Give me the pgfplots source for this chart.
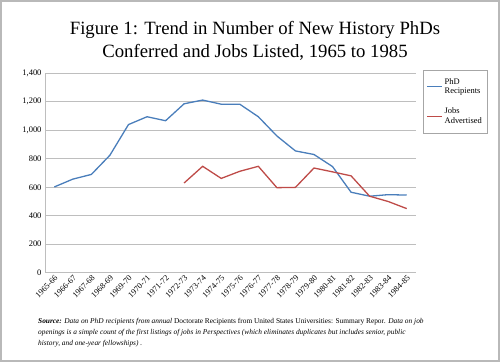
\documentclass[border=0pt]{standalone}
\usepackage{fontspec}
\setmainfont{Liberation Serif}
\usepackage{pgfplots}
\pgfplotsset{compat=1.18}
\definecolor{phdblue}{RGB}{74,126,187}
\definecolor{jobred}{RGB}{190,75,72}
\definecolor{gridgray}{RGB}{190,190,190}
\begin{document}
\begin{tikzpicture}[x=1bp,y=1bp]
\path[use as bounding box] (0,0) rectangle (500,362);
\draw[gray!55, line width=1.6bp] (0.8,0.8) rectangle (499.2,361.2);
\node[align=center, font=\fontsize{18.8}{23}\selectfont] at (255,321.3) {Figure 1: Trend in Number of New History PhDs\\Conferred and Jobs Listed, 1965 to 1985};
\begin{axis}[
  at={(45bp,89.3bp)}, anchor=south west,
  width=371bp, height=199.4bp, scale only axis,
  xmin=-0.5, xmax=19.5, ymin=0, ymax=1400,
  ytick={0,200,...,1400},
  xtick={0,...,19},
  xticklabels={1965-66,1966-67,1967-68,1968-69,1969-70,1970-71,1971-72,1972-73,1973-74,1974-75,1975-76,1976-77,1977-78,1978-79,1979-80,1980-81,1981-82,1982-83,1983-84,1984-85},
  x tick label style={rotate=45, anchor=north east, font=\fontsize{8.3}{9}\selectfont, inner sep=1.5bp},
  y tick label style={font=\fontsize{8.5}{10}\selectfont},
  /pgf/number format/assume math mode=true,
  /pgf/number format/1000 sep={,},
  major tick length=0pt,
  axis x line*=bottom, axis y line*=left,
  axis line style={gridgray, line width=0.8bp, -},
  ymajorgrids, grid style={gridgray, line width=0.8bp},
  legend style={at={(1.019,1.0166)}, anchor=north west, draw=gray!70, line width=0.6bp,
    font=\fontsize{8.5}{9.5}\selectfont, nodes={align=left}, inner xsep=3bp, inner ysep=6bp, row sep=9bp},
  legend cell align=left,
  legend image code/.code={\draw[#1] (0bp,0bp) -- (15bp,0bp);},
]
\addplot[phdblue, line width=1.3bp] coordinates {
(0,602) (1,657) (2,690) (3,825) (4,1040) (5,1095) (6,1067) (7,1186) (8,1212) (9,1183)
(10,1183) (11,1095) (12,960) (13,855) (14,830) (15,745) (16,565) (17,537) (18,548) (19,545)};
\addlegendentry{PhD\\Recipients}
\addplot[jobred, line width=1.3bp] coordinates {
(7,630) (8,747) (9,662) (10,712) (11,747) (12,597) (13,599) (14,735) (15,708) (16,680)
(17,537) (18,500) (19,450)};
\addlegendentry{Jobs\\Advertised}
\end{axis}
\node[anchor=north west, align=left, font=\fontsize{7.4}{11}\selectfont, inner sep=0pt] at (38,44) {\textbf{\textit{Source:}} \textit{Data on PhD recipients from annual} Doctorate Recipients from United States Universities: Summary Repor\textit{. Data on job}\\\textit{openings is a simple count of the first listings of jobs in Perspectives (which eliminates duplicates but includes senior, public}\\\textit{history, and one-year fellowships) .}};
\end{tikzpicture}
\end{document}
